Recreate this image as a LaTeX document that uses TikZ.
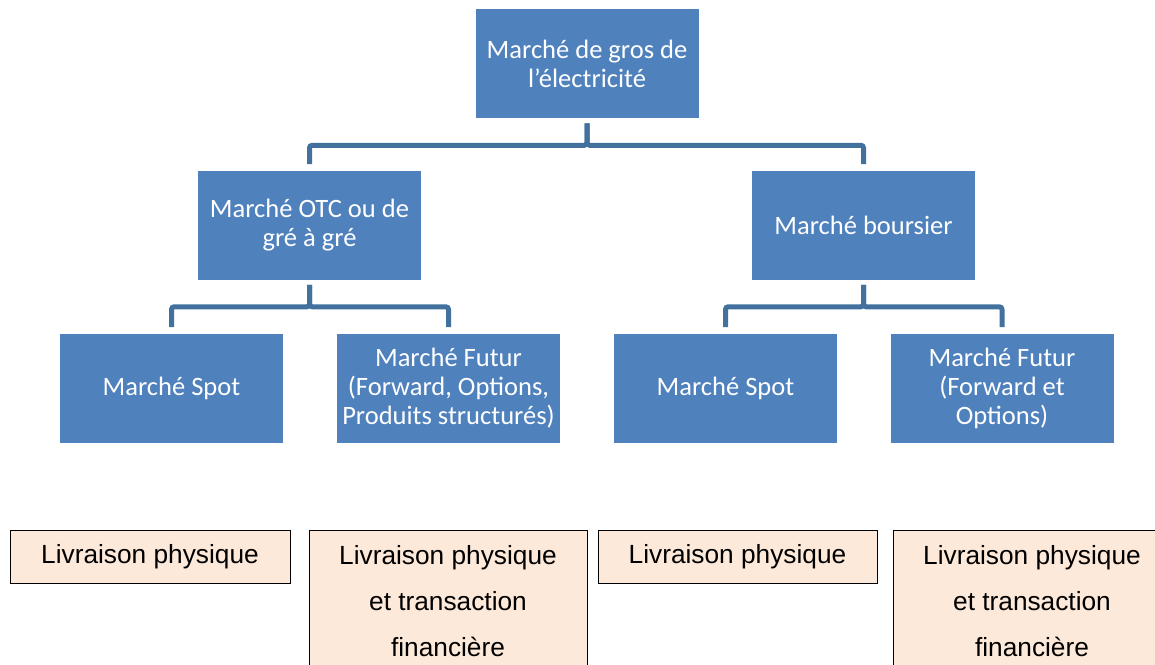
\documentclass[tikz,border=0pt]{standalone}
\usepackage{fontspec}
\setmainfont{Carlito}
\newfontfamily\arialfont{Liberation Sans}
\usepackage{xcolor}
\usepackage{tikz}

\definecolor{boxblue}{HTML}{4F81BD}
\definecolor{linkblue}{HTML}{41719C}
\definecolor{peach}{HTML}{FDE9D9}

\begin{document}
\begin{tikzpicture}[x=0.75pt,y=-0.75pt,
    market/.style={fill=boxblue, text=white, minimum width=167.25pt, minimum height=81.75pt,
      inner sep=0pt, align=center, font=\fontsize{19.9}{21.75}\selectfont},
    link/.style={draw=linkblue, line width=3.75pt, rounded corners=2pt,
      shorten <=3.75pt, shorten >=4.5pt},
    delivery/.style={draw=black, line width=0.75pt, fill=peach, inner sep=0pt,
      align=center, font=\arialfont\fontsize{19.7}{34.5}\selectfont}]
      % Page frame
      \useasboundingbox (0,0) rectangle (1155,664);
      \clip (0,0) rectangle (1155,664);
      \fill[white] (0,0) rectangle (1155,664);

      % Market boxes
      \node[market] (gros) at (587,63.5) {Marché de gros de\\l’électricité};
      \node[market] (otc) at (309.5,225) {Marché OTC ou de\\gré à gré};
      \node[market] (bourse) at (863.5,225) {Marché boursier};
      \node[market] (spotg) at (171.5,388) {Marché Spot};
      \node[market] (futurg) at (448.5,388) {Marché Futur\\(Forward, Options,\\Produits structurés)};
      \node[market] (spotd) at (725.5,388) {Marché Spot};
      \node[market] (futurd) at (1002,388) {Marché Futur\\(Forward et\\Options)};

      % Draw links
      \draw[link] (gros.south) -- ++(0,27) -| (otc.north);
      \draw[link] (gros.south) -- ++(0,27) -| (bourse.north);
      \draw[link] (otc.south) -- ++(0,27) -| (spotg.north);
      \draw[link] (otc.south) -- ++(0,27) -| (futurg.north);
      \draw[link] (bourse.south) -- ++(0,27) -| (spotd.north);
      \draw[link] (bourse.south) -- ++(0,27) -| (futurd.north);

      % Delivery boxes
      \node[delivery, minimum width=210pt, minimum height=39.75pt] (livg) at (150,556.5) {Livraison physique};
      \node[delivery, minimum width=208.5pt, minimum height=107.25pt] (transg) at (448,601.5) {Livraison physique\\et transaction\\financière};
      \node[delivery, minimum width=209.25pt, minimum height=39.75pt] (livd) at (737.5,556.5) {Livraison physique};
      \node[delivery, minimum width=208.5pt, minimum height=107.25pt] (transd) at (1032,601.5) {Livraison physique\\et transaction\\financière};
    \end{tikzpicture}
\end{document}
